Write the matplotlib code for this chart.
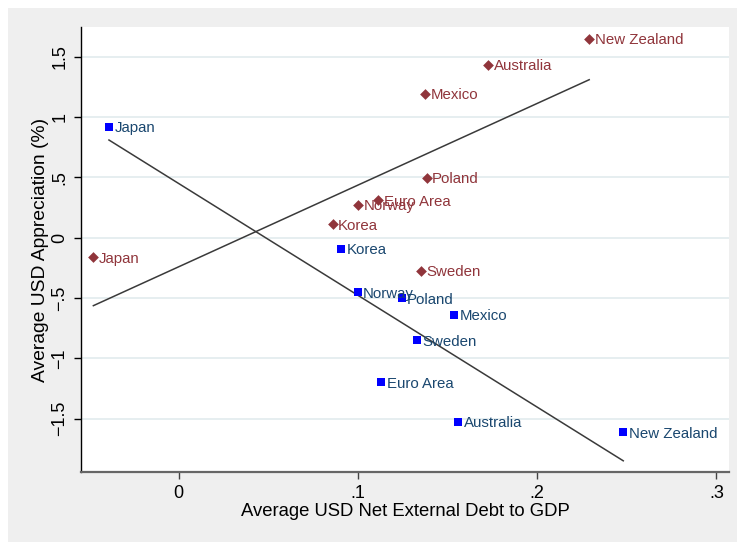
import numpy as np
import matplotlib.pyplot as plt
from matplotlib.patches import Rectangle

plt.rcParams['font.family'] = ['Liberation Sans', 'DejaVu Sans']

# USD appreciation vs. net external debt
app_names = ['Japan', 'Korea', 'Norway', 'Euro Area', 'Sweden', 'Mexico', 'Poland', 'Australia', 'New Zealand']
app_x = [-0.0476, 0.0859, 0.1002, 0.1113, 0.1350, 0.1374, 0.1383, 0.1727, 0.2290]
app_y = [-0.163, 0.111, 0.271, 0.310, -0.276, 1.192, 0.498, 1.432, 1.648]

# second series
dep_names = ['Japan', 'Korea', 'Norway', 'Euro Area', 'Sweden', 'Mexico', 'Poland', 'Australia', 'New Zealand']
dep_x = [-0.0389, 0.0904, 0.0998, 0.1130, 0.1327, 0.1537, 0.1244, 0.1558, 0.2480]
dep_y = [0.920, -0.094, -0.453, -1.199, -0.851, -0.641, -0.502, -1.526, -1.614]

xticks = [0, 0.1, 0.2, 0.3]
xtick_labels = ['0', '.1', '.2', '.3']
yticks = [-1.5, -1, -0.5, 0, 0.5, 1, 1.5]
ytick_labels = ['\u22121.5', '\u22121', '\u2212.5', '0', '.5', '1', '1.5']

red = '#90353B'
blue = '#0000FF'
navy = '#1A476F'

fig = plt.figure(figsize=(7.37, 5.42), dpi=100, facecolor='white')
fig.patches.append(Rectangle((8 / 737, 0), 1, 1 - 8 / 542, transform=fig.transFigure,
                             facecolor='#EFEFEF', edgecolor='none', zorder=-1))
ax = fig.add_axes([81 / 737, 1 - 472 / 542, 648 / 737, 445 / 542])
ax.set_facecolor('white')

for spine in ['top', 'right']:
    ax.spines[spine].set_visible(False)
ax.spines['left'].set_color('black')
ax.spines['left'].set_linewidth(1.0)
ax.spines['bottom'].set_color('#666666')
ax.spines['bottom'].set_linewidth(1.6)

ax.set_xlim(-0.0545, 0.307)
ax.set_ylim(-1.943, 1.747)

for y in yticks:
    ax.axhline(y, color='#E6EEF0', lw=1.4, zorder=0)

# fitted lines
for xs, ys in [(app_x, app_y), (dep_x, dep_y)]:
    b, a = np.polyfit(xs, ys, 1)
    xx = np.array([min(xs), max(xs)])
    ax.plot(xx, a + b * xx, color='#3A3A3A', lw=1.1, zorder=2)

ax.scatter(app_x, app_y, marker='D', s=30, color=red, zorder=3, linewidths=0)
ax.scatter(dep_x, dep_y, marker='s', s=30, color=blue, zorder=3, linewidths=0)

for n, x, y in zip(app_names, app_x, app_y):
    ax.annotate(n, (x, y), xytext=(4, -1), textcoords='offset points',
                va='center', ha='left', fontsize=10.8, color=red, zorder=4)
for n, x, y in zip(dep_names, dep_x, dep_y):
    ax.annotate(n, (x, y), xytext=(4, -1), textcoords='offset points',
                va='center', ha='left', fontsize=10.8, color=navy, zorder=4)

ax.set_xticks(xticks)
ax.set_xticklabels(xtick_labels)
ax.set_yticks(yticks)
ax.set_yticklabels(ytick_labels, rotation=90, va='center')
ax.tick_params(axis='both', direction='out', length=5, width=1, labelsize=13, colors='black')
ax.tick_params(axis='x', color='#444444', pad=4)
ax.tick_params(axis='y', pad=4)

ax.set_xlabel('Average USD Net External Debt to GDP', fontsize=13.3, labelpad=1)
ax.set_ylabel('Average USD Appreciation (%)', fontsize=13.9, labelpad=2)

fig.savefig('out.png', dpi=100, facecolor=fig.get_facecolor())
